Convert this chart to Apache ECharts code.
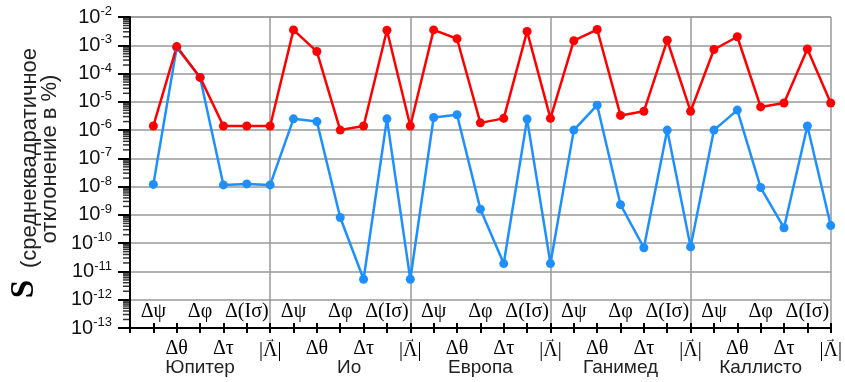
<!DOCTYPE html>
<html>
<head>
<meta charset="utf-8">
<script src="https://cdn.jsdelivr.net/npm/echarts@6/dist/echarts.min.js"></script>
<style>
  html, body { margin: 0; padding: 0; background: #fff; }
  #chart { width: 845px; height: 382px; }
</style>
</head>
<body>
<div id="chart"></div>
<script>
// Parameter symbols repeated for every body, and the bodies themselves
const paramLabels = ['Δψ', 'Δθ', 'Δφ', 'Δτ', 'Δ(Iσ)', '|Λ|'];
const vectorParam = 5; // |Λ| carries an arrow above Λ
const bodies = ['Юпитер', 'Ио', 'Европа', 'Ганимед', 'Каллисто'];

// RMS deviation, % (upper curve)
const redValues = [
  1.4e-6, 9.0e-4, 7.3e-5, 1.4e-6, 1.4e-6, 1.4e-6,
  3.5e-3, 6.0e-4, 1.0e-6, 1.4e-6, 3.4e-3, 1.4e-6,
  3.5e-3, 1.7e-3, 1.8e-6, 2.6e-6, 3.1e-3, 2.6e-6,
  1.45e-3, 3.6e-3, 3.3e-6, 4.6e-6, 1.5e-3, 4.6e-6,
  7.1e-4, 2.0e-3, 6.6e-6, 9.1e-6, 7.4e-4, 9.1e-6
];

// RMS deviation, % (lower curve)
const blueValues = [
  1.2e-8, 8.3e-4, 7.3e-5, 1.15e-8, 1.25e-8, 1.15e-8,
  2.5e-6, 2.0e-6, 8.1e-10, 5.3e-12, 2.5e-6, 5.3e-12,
  2.8e-6, 3.5e-6, 1.6e-9, 1.9e-11, 2.45e-6, 1.9e-11,
  1.0e-6, 7.6e-6, 2.3e-9, 6.9e-11, 1.0e-6, 7.4e-11,
  1.0e-6, 5.1e-6, 9.3e-9, 3.5e-10, 1.4e-6, 4.2e-10
];

// Decade range of the log axis
const yMinExp = -13;
const yMaxExp = -2;

const toPoints = arr => arr.map((v, i) => [i + 1, v]);

// Minor tick positions 2..9 x 10^n inside every decade
const minorTicks = [];
for (let e = yMinExp; e < yMaxExp; e++) {
  for (let k = 2; k <= 9; k++) minorTicks.push([0, k * Math.pow(10, e)]);
}

const serif = '"Liberation Serif", "DejaVu Serif", serif';
const sans = '"Liberation Sans", Arial, sans-serif';
const N = redValues.length;

const paramText = v => {
  const idx = (v - 1) % 6;
  if (idx === vectorParam) return '{a|→}\n{t|' + paramLabels[idx] + '}';
  return '{t|' + paramLabels[idx] + '}';
};
const paramRich = {
  t: { fontFamily: serif, fontSize: 20, color: '#000', lineHeight: 22 },
  a: { fontFamily: serif, fontSize: 12, color: '#000', lineHeight: 2 }
};

const bodyText = v => {
  const i = (v - 3) / 6;
  // the short name sits a little right of its group's centre
  return i === 1 ? '{n|' + bodies[i] + '}' : '{m|' + bodies[i] + '}';
};

const baseX = {
  type: 'value', min: 0, max: N, interval: 1,
  gridIndex: 0, position: 'bottom',
  splitLine: { show: false }
};

const chart = echarts.init(document.getElementById('chart'));
chart.setOption({
  animation: false,
  backgroundColor: '#fff',
  grid: { left: 130, right: 9, top: 17, bottom: 54, containLabel: false },
  xAxis: [
    // axis line, outward ticks and the lower row of symbols
    Object.assign({}, baseX, {
      axisLine: { show: true, lineStyle: { color: '#000', width: 2 } },
      axisTick: { show: true, length: 5, lineStyle: { color: '#000', width: 2 } },
      axisLabel: {
        margin: 10, showMinLabel: true, showMaxLabel: true, rich: paramRich,
        formatter: v => (v >= 1 && v % 2 === 0) ? paramText(v) : ''
      }
    }),
    // inward ticks and the upper row of symbols
    Object.assign({}, baseX, {
      axisLine: { show: false },
      axisTick: { show: true, inside: true, length: 5, lineStyle: { color: '#000', width: 2 } },
      axisLabel: {
        inside: true, margin: 5, showMinLabel: true, showMaxLabel: true, rich: paramRich,
        formatter: v => (v >= 1 && v % 2 === 1) ? paramText(v) : ''
      }
    }),
    // body names
    Object.assign({}, baseX, {
      axisLine: { show: false },
      axisTick: { show: false },
      axisLabel: {
        margin: 30,
        rich: {
          m: { color: '#222', fontFamily: sans, fontSize: 19 },
          n: { color: '#222', fontFamily: sans, fontSize: 19, padding: [0, 0, 0, 18] }
        },
        formatter: v => ((v - 3) % 6 === 0 && v >= 3) ? bodyText(v) : ''
      }
    }),
    // separators between bodies
    Object.assign({}, baseX, {
      interval: 6,
      axisLine: { show: false },
      axisTick: { show: false },
      axisLabel: { show: false },
      splitLine: { show: true, lineStyle: { color: '#999', width: 1.5 } }
    })
  ],
  yAxis: {
    type: 'log', logBase: 10, interval: 1,
    min: Math.pow(10, yMinExp), max: Math.pow(10, yMaxExp),
    axisLine: { show: true, lineStyle: { color: '#000', width: 2 } },
    axisTick: { show: true, length: 12, lineStyle: { color: '#000', width: 2 } },
    splitLine: { show: true, lineStyle: { color: '#999', width: 1.5 } },
    axisLabel: {
      margin: 18, color: '#111',
      formatter: v => '{b|10}{s|' + Math.round(Math.log10(v)) + '}',
      rich: {
        b: { fontFamily: sans, fontSize: 20, color: '#111', lineHeight: 24 },
        s: { fontFamily: sans, fontSize: 13, color: '#111', verticalAlign: 'top', lineHeight: 24, padding: [0, 0, 9, 0] }
      }
    }
  },
  graphic: [
    {
      type: 'text', x: 24, y: 289, rotation: Math.PI / 2,
      style: {
        text: '{s|S}',
        rich: { s: { fontFamily: serif, fontWeight: 'bold', fontSize: 33, color: '#000' } },
        textAlign: 'center', textVerticalAlign: 'middle'
      }
    },
    {
      type: 'text', x: 30, y: 158, rotation: Math.PI / 2,
      style: { text: '(среднеквадратичное', fontFamily: sans, fontSize: 22, fill: '#222', textAlign: 'center', textVerticalAlign: 'middle' }
    },
    {
      type: 'text', x: 50, y: 159, rotation: Math.PI / 2,
      style: { text: 'отклонение в %)', fontFamily: sans, fontSize: 22, fill: '#222', textAlign: 'center', textVerticalAlign: 'middle' }
    }
  ],
  series: [
    {
      // minor ticks on the log axis
      type: 'scatter', xAxisIndex: 0, yAxisIndex: 0, silent: true, clip: false, z: 5,
      data: minorTicks,
      symbol: 'rect', symbolSize: [7, 1.5], symbolOffset: [-3.5, 0],
      itemStyle: { color: '#000' }
    },
    {
      name: 'blue', type: 'line', xAxisIndex: 0, data: toPoints(blueValues),
      symbol: 'circle', symbolSize: 9,
      lineStyle: { color: '#1e8fff', width: 2.5 },
      itemStyle: { color: '#1e8fff' }
    },
    {
      name: 'red', type: 'line', xAxisIndex: 0, data: toPoints(redValues),
      symbol: 'circle', symbolSize: 9,
      lineStyle: { color: '#ff0000', width: 2.5 },
      itemStyle: { color: '#ff0000' }
    }
  ]
});
</script>
</body>
</html>
